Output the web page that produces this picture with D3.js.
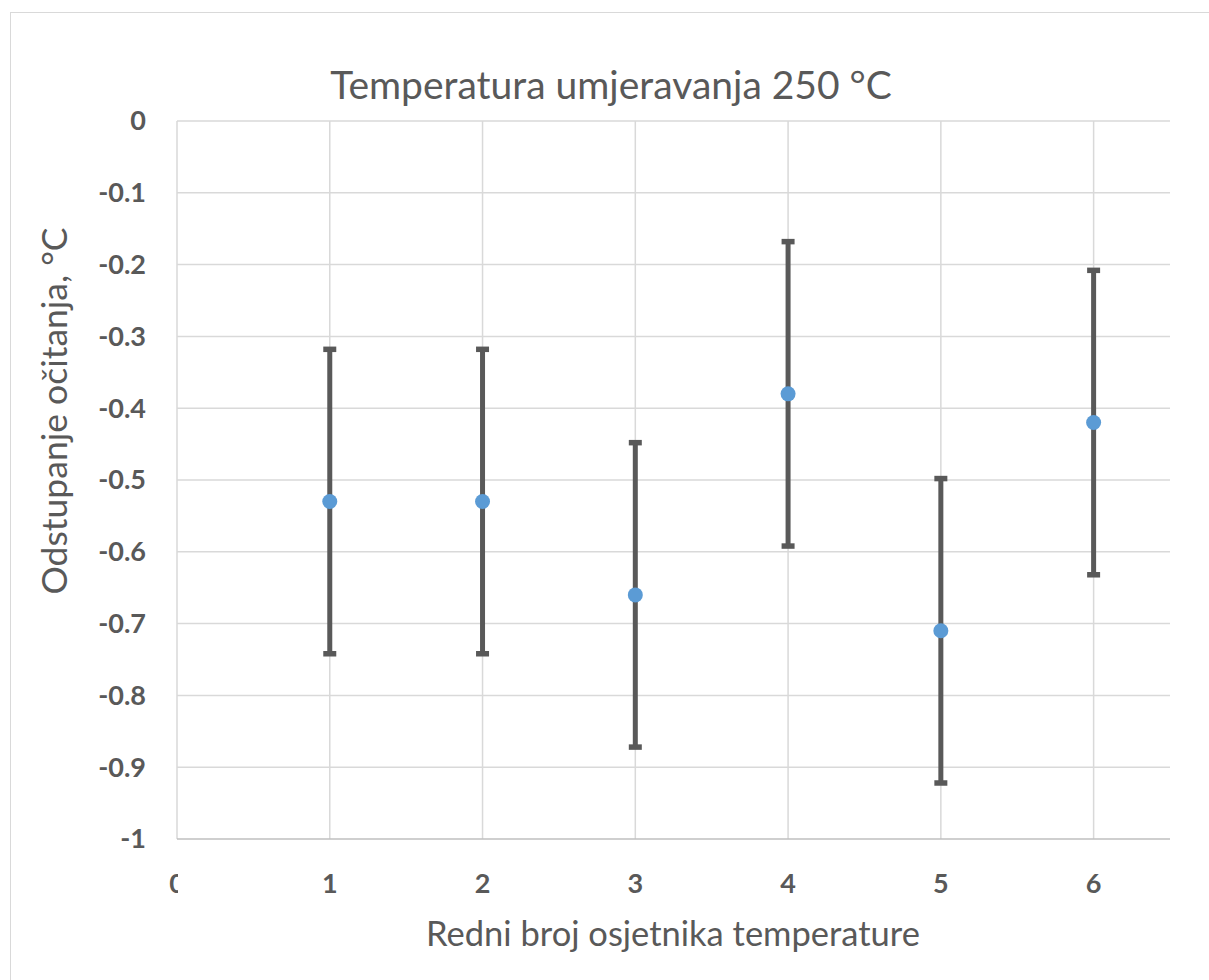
<!DOCTYPE html>
<html>
<head>
<meta charset="utf-8">
<script src="https://cdn.jsdelivr.net/npm/d3@7"></script>
<style>
  body { margin: 0; background: #fff; }
  svg { display: block; font-family: Lato, "Open Sans", sans-serif; }
</style>
</head>
<body>
<svg width="1209" height="980"></svg>
<script>
// sensor numbers, mean deviation and error half-width
const sensors = [1, 2, 3, 4, 5, 6];
const deviation = [-0.53, -0.53, -0.66, -0.38, -0.71, -0.42];
const errorPlus = [0.212, 0.212, 0.212, 0.212, 0.212, 0.212];
const errorMinus = [0.212, 0.212, 0.212, 0.212, 0.212, 0.212];
const xTicks = [0, 1, 2, 3, 4, 5, 6];
const yTicks = [0, -0.1, -0.2, -0.3, -0.4, -0.5, -0.6, -0.7, -0.8, -0.9, -1];

const svg = d3.select("svg");
const grey = "#595959";

// outer chart border
svg.append("rect")
    .attr("x", 10.5).attr("y", 12.5)
    .attr("width", 1210).attr("height", 980)
    .attr("fill", "none")
    .attr("stroke", "#d9d9d9");

const plotLeft = 177, plotRight = 1170, plotTop = 121, plotBottom = 839;

const x = d3.scaleLinear().domain([0, 6.5]).range([plotLeft, plotRight]);
const y = d3.scaleLinear().domain([-1, 0]).range([plotBottom, plotTop]);

// horizontal gridlines
svg.append("g")
    .selectAll("line")
    .data(yTicks.filter(d => d !== -1))
    .join("line")
    .attr("x1", plotLeft).attr("x2", plotRight)
    .attr("y1", d => y(d)).attr("y2", d => y(d))
    .attr("stroke", "#d9d9d9")
    .attr("stroke-width", 1.5);

// vertical gridlines
svg.append("g")
    .selectAll("line")
    .data(xTicks)
    .join("line")
    .attr("x1", d => x(d)).attr("x2", d => x(d))
    .attr("y1", plotTop).attr("y2", plotBottom)
    .attr("stroke", "#d9d9d9")
    .attr("stroke-width", 1.5);

// bottom axis line
svg.append("line")
    .attr("x1", plotLeft).attr("x2", plotRight)
    .attr("y1", plotBottom).attr("y2", plotBottom)
    .attr("stroke", "#bfbfbf")
    .attr("stroke-width", 1.5);

// y tick labels
svg.append("g")
    .selectAll("text")
    .data(yTicks)
    .join("text")
    .attr("x", 146)
    .attr("y", d => y(d))
    .attr("dy", "0.35em")
    .attr("text-anchor", "end")
    .attr("fill", grey)
    .style("font-size", "27px")
    .style("font-weight", "bold")
    .text(d => d === 0 ? "0" : d === -1 ? "-1" : "-" + d3.format(".1f")(-d));

// x tick labels (the "0" is cut off at the axis, as in the original)
svg.append("clipPath").attr("id", "xclip")
    .append("rect")
    .attr("x", 0).attr("y", 850)
    .attr("width", 178).attr("height", 60);

svg.append("g")
    .selectAll("text")
    .data(xTicks)
    .join("text")
    .attr("x", d => x(d))
    .attr("y", 884)
    .attr("dy", "0.35em")
    .attr("text-anchor", "middle")
    .attr("fill", grey)
    .attr("clip-path", d => d === 0 ? "url(#xclip)" : null)
    .style("font-size", "27px")
    .style("font-weight", "bold")
    .text(d => d);

// error bars
const bars = svg.append("g");
sensors.forEach((s, i) => {
    const yHi = y(deviation[i] + errorPlus[i]);
    const yLo = y(deviation[i] - errorMinus[i]);
    bars.append("line")
        .attr("x1", x(s)).attr("x2", x(s))
        .attr("y1", yHi).attr("y2", yLo)
        .attr("stroke", grey)
        .attr("stroke-width", 5);
    [yHi, yLo].forEach(v => {
        bars.append("line")
            .attr("x1", x(s) - 6.5).attr("x2", x(s) + 6.5)
            .attr("y1", v).attr("y2", v)
            .attr("stroke", grey)
            .attr("stroke-width", 5.5);
    });
});

// markers
svg.append("g")
    .selectAll("circle")
    .data(sensors)
    .join("circle")
    .attr("cx", d => x(d))
    .attr("cy", (d, i) => y(deviation[i]))
    .attr("r", 7.5)
    .attr("fill", "#5b9bd5");

// titles
svg.append("text")
    .attr("x", 611).attr("y", 85)
    .attr("dy", "0.35em")
    .attr("text-anchor", "middle")
    .attr("fill", grey)
    .style("font-size", "39px")
    .text("Temperatura umjeravanja 250 °C");

svg.append("text")
    .attr("x", 673).attr("y", 934)
    .attr("dy", "0.35em")
    .attr("text-anchor", "middle")
    .attr("fill", grey)
    .style("font-size", "34.5px")
    .text("Redni broj osjetnika temperature");

svg.append("text")
    .attr("transform", "translate(55,411) rotate(-90)")
    .attr("dy", "0.35em")
    .attr("text-anchor", "middle")
    .attr("fill", grey)
    .style("font-size", "35.5px")
    .text("Odstupanje očitanja, °C");
</script>
</body>
</html>
